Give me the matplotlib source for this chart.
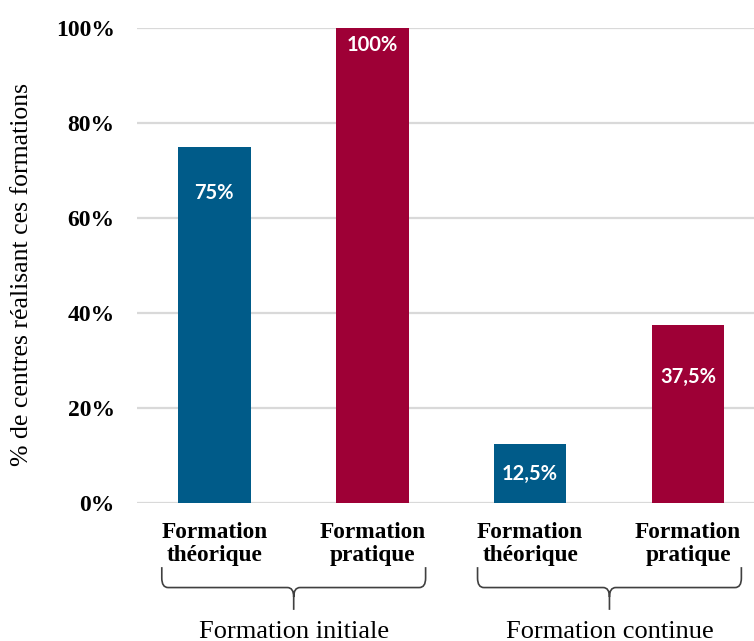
import matplotlib
matplotlib.use("Agg")
import matplotlib.pyplot as plt
from matplotlib.path import Path
from matplotlib.patches import PathPatch
import matplotlib.transforms as mtransforms

# ---- data ----
categories = ["Formation\nthéorique", "Formation\npratique",
              "Formation\nthéorique", "Formation\npratique"]
values = [75, 100, 12.5, 37.5]
value_labels = ["75%", "100%", "12,5%", "37,5%"]
groups = ["Formation initiale", "Formation continue"]
group_members = [(0, 1), (2, 3)]
y_ticks = [0, 20, 40, 60, 80, 100]
y_tick_labels = ["0%", "20%", "40%", "60%", "80%", "100%"]
y_label = "% de centres réalisant ces formations"

# ---- style ----
blue = "#005B89"
red = "#9E0036"
bar_colors = [blue, red, blue, red]
label_pos = [65.3, 96.4, 6.1, 26.5]  # vertical position of value labels
serif = ["Liberation Serif", "DejaVu Serif"]
sans = ["Lato", "DejaVu Sans"]

W, H = 754, 641
fig = plt.figure(figsize=(W / 100, H / 100), dpi=100)
ax = fig.add_axes([137 / W, (H - 503) / H, (W - 137) / W, 475 / H])

x = list(range(len(values)))
ax.bar(x, values, width=0.46, color=bar_colors, zorder=3)
ax.set_xlim(-0.49, 3.418)
ax.set_ylim(0, 100)

for xi, lp, lab in zip(x, label_pos, value_labels):
    ax.text(xi, lp, lab, ha="center", va="center", color="white",
            fontsize=14.5, fontweight="bold", family=sans, zorder=4)

ax.set_yticks(y_ticks)
ax.set_yticklabels(y_tick_labels, family=serif, fontweight="bold", fontsize=17)
ax.tick_params(axis="y", length=0, pad=16)
ax.yaxis.grid(True, color="#D9D9D9", linewidth=1.6, zorder=0)
ax.set_xticks([])
for s in ax.spines.values():
    s.set_visible(False)

fig.text(22 / W, (H - 275) / H, y_label, rotation=90, ha="center", va="center",
         family=serif, fontsize=18.5)

trans = mtransforms.blended_transform_factory(ax.transData, ax.transAxes)
for xi, cat in zip(x, categories):
    ax.text(xi, -0.086, cat, transform=trans, ha="center", va="center",
            family=serif, fontweight="bold", fontsize=16.8, linespacing=1.12)


def brace(x0, x1, yt, ym, yb, rx=0.04, ry=0.02):
    xc = (x0 + x1) / 2
    verts = [(x0, yt), (x0, ym + ry), (x0, ym), (x0 + rx, ym), (xc - rx, ym),
             (xc, ym), (xc, ym - ry), (xc, yb),
             (xc, ym - ry), (xc, ym), (xc + rx, ym), (x1 - rx, ym),
             (x1, ym), (x1, ym + ry), (x1, yt)]
    codes = [Path.MOVETO, Path.LINETO, Path.CURVE3, Path.CURVE3, Path.LINETO,
             Path.CURVE3, Path.CURVE3, Path.LINETO,
             Path.MOVETO, Path.CURVE3, Path.CURVE3, Path.LINETO,
             Path.CURVE3, Path.CURVE3, Path.LINETO]
    p = PathPatch(Path(verts, codes), transform=trans, fill=False,
                  edgecolor="#404040", linewidth=1.2, clip_on=False)
    ax.add_patch(p)
    return xc


for (a, b), g in zip(group_members, groups):
    xc = brace(a - 0.333, b + 0.338, -0.135, -0.178, -0.225)
    ax.text(xc, -0.272, g, transform=trans, ha="center", va="center",
            family=serif, fontsize=19, clip_on=False)

fig.savefig("out.png", dpi=100)
